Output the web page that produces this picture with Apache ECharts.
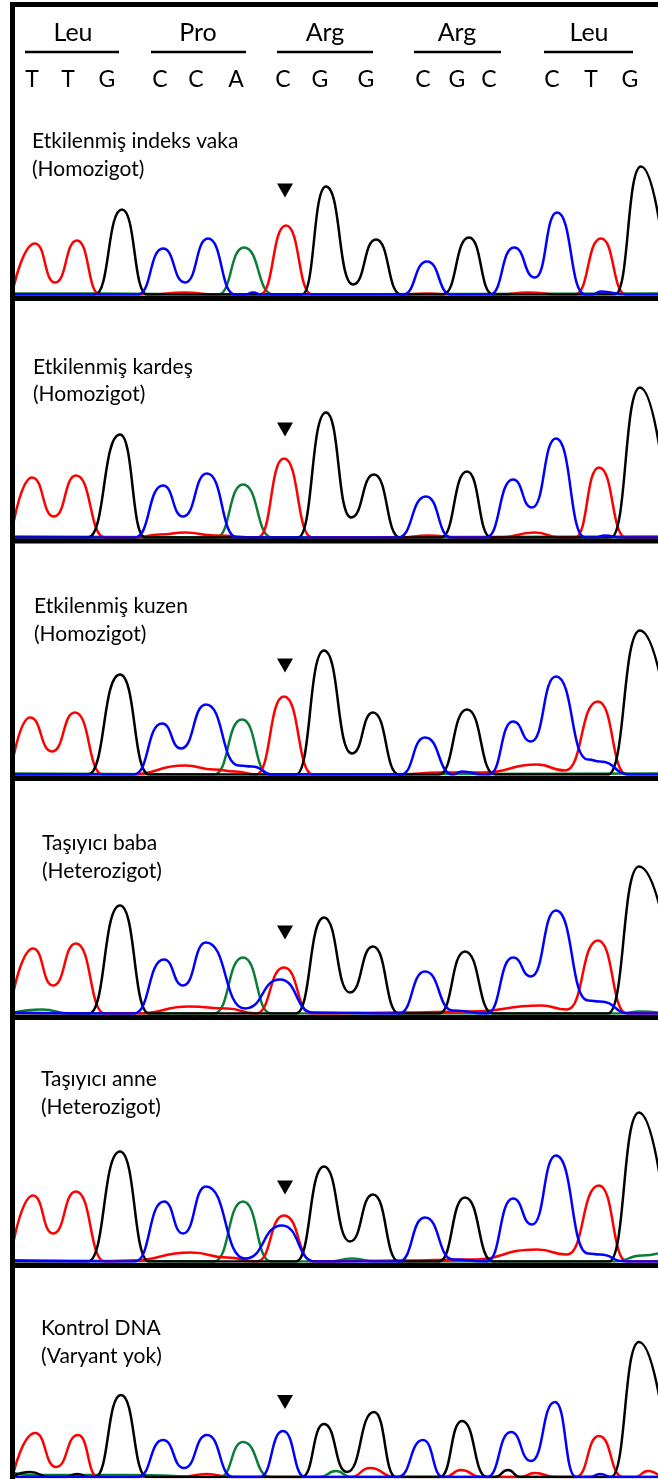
<!DOCTYPE html>
<html>
<head>
<meta charset="utf-8">
<script src="https://cdn.jsdelivr.net/npm/echarts@6/dist/echarts.min.js"></script>
<style>
html, body { margin: 0; padding: 0; background: #fff; }
#main { width: 658px; height: 1479px; }
</style>
</head>
<body>
<div id="main"></div>
<script>
// header: amino acids and codon bases
var aminoAcids = ['Leu', 'Pro', 'Arg', 'Arg', 'Leu'];
var codonBases = ['T', 'T', 'G', 'C', 'C', 'A', 'C', 'G', 'G', 'C', 'G', 'C', 'C', 'T', 'G'];

// panel captions
var sampleNames = ['Etkilenmiş indeks vaka', 'Etkilenmiş kardeş', 'Etkilenmiş kuzen',
    'Taşıyıcı baba', 'Taşıyıcı anne', 'Kontrol DNA'];
var genotypes = ['(Homozigot)', '(Homozigot)', '(Homozigot)',
    '(Heterozigot)', '(Heterozigot)', '(Varyant yok)'];

// chromatogram traces, [scan position, signal] at the peaks / valleys of each curve
var red1 = [[14,9],[35,51],[55,12],[77,54],[100,0],[150,0],[185,2],[215,0],[260,0],[286,69],[312,0],[400,0],[428,1],[450,0],[500,0],[528,2],[560,0],[575,0],[601,56],[626,0],[658,0]];
var black1 = [[14,0],[95,0],[122,85],[147,0],[302,0],[326,108],[353,10],[376,55],[401,0],[443,0],[469,57],[493,0],[615,0],[641,128],[669,0]];
var blue1 = [[14,0],[138,0],[163,46],[185,12],[208,56],[235,0],[245,0],[253,2],[262,0],[403,0],[427,33],[451,0],[490,0],[514,47],[535,17],[557,82],[585,0],[592,0],[601,3],[625,0],[658,0]];
var green1 = [[14,1],[100,1],[218,0],[244,47],[273,0],[658,1]];

var red2 = [[14,17],[32,60],[54,21],[76,62],[105,0],[135,0],[160,3],[185,5],[215,2],[258,0],[284,79],[312,0],[400,0],[428,2],[460,0],[500,0],[535,5],[560,0],[575,0],[599,70],[626,0],[658,0]];
var black2 = [[14,0],[88,0],[120,103],[145,0],[298,0],[326,125],[351,20],[374,63],[400,0],[441,0],[467,66],[491,0],[611,0],[640,150],[671,0]];
var blue2 = [[14,0],[135,0],[163,52],[183,21],[207,64],[237,0],[398,0],[426,41],[451,0],[486,0],[513,58],[532,30],[556,99],[585,0],[595,0],[605,2],[620,0],[658,0]];
var green2 = [[14,1],[216,0],[243,53],[272,0],[658,1]];

var red3 = [[14,20],[30,57],[52,23],[75,62],[103,0],[130,0],[185,9],[214,5],[235,3],[256,0],[284,78],[313,0],[399,0],[440,2],[483,2],[537,10],[565,4],[598,73],[627,0],[658,0]];
var black3 = [[14,0],[88,0],[120,100],[149,0],[296,0],[324,124],[352,21],[373,62],[399,0],[439,0],[467,65],[495,0],[608,0],[640,144],[676,0]];
var blue3 = [[14,0],[134,0],[162,51],[181,26],[206,70],[239,9],[252,8],[273,0],[401,0],[425,37],[453,0],[462,3],[483,0],[489,0],[513,53],[531,33],[556,98],[588,15],[600,13],[630,0],[658,0]];
var green3 = [[14,1],[214,0],[242,55],[269,0],[658,1]];

var red4 = [[14,24],[33,65],[53,28],[76,70],[105,0],[138,0],[189,7],[227,5],[256,0],[284,46],[311,0],[400,1],[470,2],[541,8],[567,4],[598,73],[627,0],[658,0]];
var black4 = [[14,0],[89,0],[120,108],[149,0],[296,0],[324,96],[350,21],[373,67],[399,0],[439,0],[465,62],[493,0],[608,0],[639,147],[679,0]];
var blue4 = [[14,1],[134,0],[164,54],[183,28],[206,71],[245,5],[280,34],[313,1],[399,0],[425,42],[453,3],[487,0],[513,56],[531,37],[556,103],[588,13],[600,12],[630,0],[658,0]];
var green4 = [[14,1],[42,4],[70,0],[214,0],[243,56],[271,0],[620,0],[640,2],[658,1]];

var red5 = [[14,22],[33,66],[53,28],[76,70],[105,0],[130,1],[191,9],[227,4],[257,0],[284,46],[313,0],[400,1],[470,2],[537,12],[567,7],[599,76],[627,0],[658,0]];
var black5 = [[14,0],[88,0],[120,110],[149,0],[296,0],[324,95],[350,20],[373,67],[399,0],[439,0],[465,64],[493,0],[609,0],[639,149],[671,0]];
var blue5 = [[14,1],[135,0],[164,60],[183,28],[206,75],[245,3],[282,36],[315,0],[399,0],[425,44],[453,2],[487,0],[513,63],[532,37],[556,106],[588,8],[600,7],[625,0],[658,0]];
var green5 = [[14,1],[214,0],[243,60],[271,0],[330,0],[352,3],[375,0],[615,0],[642,6],[658,8]];

var red6 = [[14,6],[35,44],[56,10],[78,42],[98,0],[180,0],[207,3],[230,0],[351,0],[370,9],[395,0],[445,0],[461,7],[481,0],[520,0],[535,4],[555,0],[576,0],[599,41],[623,0],[635,0],[648,6],[658,2]];
var black6 = [[14,1],[30,5],[50,0],[65,0],[77,3],[90,0],[95,0],[121,82],[147,0],[302,0],[324,53],[347,5],[374,65],[396,0],[440,0],[462,56],[487,0],[495,0],[508,7],[520,0],[611,0],[639,135],[671,0]];
var blue6 = [[14,0],[138,0],[163,37],[184,9],[207,42],[233,0],[260,0],[283,46],[305,0],[398,0],[423,37],[443,0],[487,0],[511,45],[531,16],[555,75],[576,0],[590,0],[600,3],[612,0],[658,0]];
var green6 = [[14,4],[30,2],[127,2],[220,0],[243,35],[270,0],[320,0],[336,6],[351,0],[658,0]];

// variant position and arrow level per panel
var variantPos = 285;
var arrowLevel = [104, 108, 109, 81, 74, 75];

var panels = [
    {green: green1, red: red1, black: black1, blue: blue1},
    {green: green2, red: red2, black: black2, blue: blue2},
    {green: green3, red: red3, black: black3, blue: blue3},
    {green: green4, red: red4, black: black4, blue: blue4},
    {green: green5, red: red5, black: black5, blue: blue5},
    {green: green6, red: red6, black: black6, blue: blue6}
];

// layout (pixels)
var baselines = [294.5, 537.5, 774.5, 1013.5, 1261.5, 1477];
var separatorTop = [296, 538.5, 776, 1015, 1263];
var captionX = [32, 33, 34, 42, 41, 41];
var captionY = [[141, 169], [367, 394], [606, 634], [843, 871], [1079, 1107], [1328, 1356]];
var aminoX = [73, 198, 325, 457, 589];
var underline = [[25, 119], [151, 246], [277, 373], [414, 501], [544, 633]];
var codonX = [32, 68, 107, 160, 196, 236, 283, 320, 366, 423, 457, 489, 552, 591, 630];

var colors = {red: '#ff0000', black: '#000000', blue: '#0000ff', green: '#0b7d36'};
var FONT = 'Lato, "Open Sans", sans-serif';

var grids = [], xAxes = [], yAxes = [], series = [], graphics = [];

panels.forEach(function (p, i) {
    grids.push({left: 14, right: 0, top: baselines[i] - 200, height: 200});
    xAxes.push({type: 'value', gridIndex: i, min: 14, max: 658, show: false});
    yAxes.push({type: 'value', gridIndex: i, min: 0, max: 200, show: false});
    ['green', 'red', 'black', 'blue'].forEach(function (c) {
        series.push({
            type: 'line', xAxisIndex: i, yAxisIndex: i,
            data: p[c], smooth: 0.55, smoothMonotone: 'x',
            showSymbol: false, silent: true,
            lineStyle: {color: colors[c], width: 2.5}
        });
    });
    series.push({
        type: 'scatter', xAxisIndex: i, yAxisIndex: i,
        data: [[variantPos, arrowLevel[i]]],
        symbol: 'triangle', symbolRotate: 180, symbolSize: [16, 14],
        itemStyle: {color: '#000', opacity: 1}, silent: true
    });
    graphics.push({type: 'text', z: 50, style: {text: sampleNames[i], x: captionX[i], y: captionY[i][0],
        font: '21px ' + FONT, fill: '#000', verticalAlign: 'middle'}});
    graphics.push({type: 'text', z: 50, style: {text: genotypes[i], x: captionX[i], y: captionY[i][1],
        font: '21px ' + FONT, fill: '#000', verticalAlign: 'middle'}});
});

// frame and panel separators
graphics.push({type: 'rect', z: 100, shape: {x: 10, y: 2, width: 648, height: 5}, style: {fill: '#000'}});
graphics.push({type: 'rect', z: 100, shape: {x: 10, y: 2, width: 5, height: 1477}, style: {fill: '#000'}});
separatorTop.forEach(function (y) {
    graphics.push({type: 'rect', z: 100, shape: {x: 10, y: y, width: 648, height: 5}, style: {fill: '#000'}});
});

// header
aminoAcids.forEach(function (a, k) {
    graphics.push({type: 'text', z: 50, style: {text: a, x: aminoX[k], y: 33, font: '25px ' + FONT,
        fill: '#000', align: 'center', verticalAlign: 'middle'}});
    graphics.push({type: 'line', z: 50, shape: {x1: underline[k][0], y1: 52, x2: underline[k][1], y2: 52},
        style: {stroke: '#000', lineWidth: 2.5}});
});
codonBases.forEach(function (b, k) {
    graphics.push({type: 'text', z: 50, style: {text: b, x: codonX[k], y: 80, font: '23px ' + FONT,
        fill: '#000', align: 'center', verticalAlign: 'middle'}});
});

var chart = echarts.init(document.getElementById('main'));
chart.setOption({
    animation: false,
    backgroundColor: '#fff',
    grid: grids,
    xAxis: xAxes,
    yAxis: yAxes,
    series: series,
    graphic: graphics
});
</script>
</body>
</html>
